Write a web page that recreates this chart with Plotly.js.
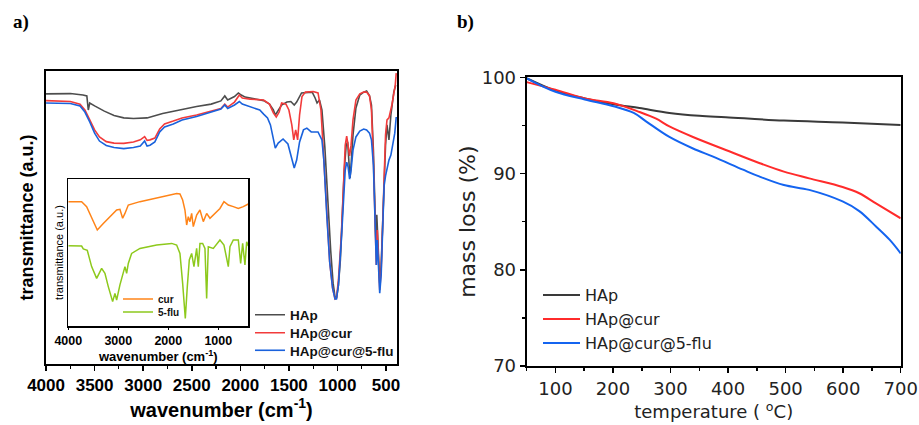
<!DOCTYPE html>
<html>
<head>
<meta charset="utf-8">
<script src="https://cdn.plot.ly/plotly-3.0.1.min.js"></script>
<style>html,body{margin:0;padding:0;background:#fff;}#chart{width:919px;height:425px;}</style>
</head>
<body>
<div id="chart"></div>
<script>
// ---------- Panel a: FTIR (main) ----------
const hapWn = [4000,3750,3620,3580,3565,3550,3500,3400,3300,3200,3100,2960,2800,2600,2450,2300,2200,2160,2130,2060,2020,1990,1950,1870,1760,1700,1660,1640,1610,1575,1520,1480,1445,1420,1370,1300,1260,1230,1210,1185,1160,1130,1100,1070,1045,1025,1010,990,970,950,930,910,895,880,870,860,840,810,770,730,700,670,650,630,615,605,595,580,565,550,535,520,505,490,470,450,420,400];
const hapT  = [92.2,92.3,91.8,91.5,86.7,89.1,88.1,86.3,84.8,84.0,83.8,84.0,85.5,87.0,87.9,88.7,89.8,91.5,90.1,91.3,92.5,91.8,91.1,90.6,89.9,88.7,86.7,85.0,86.7,88.4,89.4,89.6,88.4,89.4,92.5,92.8,92.8,90.8,89.1,90.1,86.7,74.1,56.0,38.9,27.6,22.9,22.5,26.9,35.5,50.9,66.2,74.7,75.8,67.9,63.5,67.9,78.2,87.4,91.8,92.8,93.2,91.5,88.4,73.0,56.0,42.3,50.9,40.6,27.6,33.8,49.1,62.8,74.7,81.6,76.5,85.0,92.8,95.2];

const hapCurWn = [4000,3750,3650,3600,3550,3500,3450,3380,3300,3200,3100,3030,2985,2960,2930,2880,2830,2780,2690,2600,2450,2300,2200,2160,2130,2060,2010,1980,1900,1760,1700,1660,1630,1600,1575,1530,1500,1470,1450,1430,1410,1390,1365,1330,1250,1200,1170,1140,1110,1080,1050,1025,1010,990,960,940,920,905,890,875,860,840,810,770,730,700,670,650,630,610,600,590,575,565,550,535,520,505,490,470,440,420,405,395];
const hapCurT  = [89.9,89.6,88.7,86.7,83.3,79.9,77.5,75.9,75.4,75.3,75.8,76.5,77.6,76.3,76.5,77.1,80.2,81.9,82.9,84.0,85.0,86.3,87.2,88.7,87.7,89.4,91.8,90.8,90.4,90.1,88.7,85.7,84.3,86.0,89.1,88.7,86.7,81.6,76.5,79.9,76.5,85.0,91.3,92.8,93.0,92.5,86.7,69.6,50.9,34.8,25.9,22.2,22.5,28.7,44.0,59.4,74.7,77.8,74.7,71.0,74.7,83.3,90.1,92.2,92.8,92.8,91.5,86.7,69.6,45.7,33.8,45.7,35.5,25.3,32.1,49.1,66.2,78.2,83.3,84.0,88.4,91.8,95.2,99.3];

const hapCurFluWn = [4000,3750,3650,3600,3550,3500,3450,3380,3300,3200,3100,3030,2985,2960,2930,2880,2830,2780,2690,2600,2450,2300,2200,2160,2130,2060,2010,1980,1900,1800,1760,1720,1690,1660,1640,1610,1560,1510,1475,1445,1420,1390,1350,1315,1270,1200,1160,1140,1110,1080,1050,1025,1010,990,960,940,920,905,890,875,860,840,810,770,730,700,670,650,630,610,600,590,575,565,550,535,520,505,490,470,450,430,410,395];
const hapCurFluT  = [89.1,88.9,88.1,86.0,82.6,78.8,76.1,74.6,73.9,73.5,73.9,74.4,76.1,74.4,74.7,75.8,79.2,80.9,81.9,83.3,84.5,86.0,87.0,88.4,87.2,88.4,89.6,88.7,87.9,86.7,85.3,84.0,81.6,77.1,73.7,75.4,76.8,75.1,70.1,66.9,69.6,75.8,79.9,80.5,79.2,79.2,76.5,69.6,50.9,34.8,25.9,22.2,22.2,26.9,42.3,56.0,66.2,68.9,67.2,63.1,66.2,73.0,77.5,79.5,80.2,79.9,78.8,76.5,67.9,45.7,33.8,42.3,32.1,24.2,30.4,49.1,60.8,64.2,66.9,69.6,71.3,74.7,78.8,84.3];

// ---------- Panel a: inset ----------
const curWn = [4000,3733,3633,3533,3420,3300,3167,3033,2967,2913,2867,2800,2567,2233,1833,1767,1713,1667,1633,1600,1567,1533,1500,1433,1367,1300,1233,1167,1067,967,887,800,700,600,500,400];
const curT  = [84.6,84.6,81.2,73.3,65.3,69.8,74.4,78.9,79.4,73.3,76.6,82.3,84.6,87.1,90.2,89.8,85.7,78.9,68.7,74.4,71.0,76.6,67.6,75.5,78.9,71.0,76.6,73.3,76.6,80.0,84.6,82.3,81.2,80.0,81.2,83.0];

const fluWn = [4000,3733,3700,3620,3533,3433,3333,3267,3200,3113,3067,3033,2967,2867,2833,2800,2733,2567,2233,1933,1833,1767,1713,1660,1620,1580,1533,1487,1433,1400,1367,1313,1267,1233,1200,1100,967,887,833,800,767,700,600,553,513,467,433,400];
const fluT  = [54.6,54.4,52.5,51.5,40.4,32.4,39.2,35.8,26.8,16.6,22.2,17.7,28.0,40.4,35.8,42.6,49.4,52.8,55.1,56.2,55.1,49.4,29.0,5.2,26.8,44.9,49.4,40.4,52.8,40.4,56.2,56.2,52.8,18.8,53.9,52.8,58.5,55.1,46.0,40.4,53.9,58.5,58.5,42.6,56.2,41.5,57.3,54.4];

// ---------- Panel b: TGA ----------
const tempHap = [50,100,151,201,246,298,350,396,497,599,700];
const massHap = [99.9,98.6,97.8,97.2,96.8,96.3,96.0,95.85,95.5,95.3,95.05];
const tempHapCur = [50,100,151,201,246,275,298,339,396,454,497,541,599,628,657,700];
const massHapCur = [99.5,98.7,97.8,97.3,96.4,95.7,94.9,93.8,92.45,91.1,90.2,89.5,88.6,87.95,86.9,85.35];
const tempHapCurFlu = [50,100,151,201,236,258,298,339,374,426,454,497,541,599,628,657,681,700];
const massHapCurFlu = [99.9,98.5,97.7,97.0,96.3,95.4,93.8,92.6,91.75,90.4,89.7,88.8,88.3,87.1,86.1,84.5,83.1,81.7];

const ftirNames = ['HAp','HAp@cur','HAp@cur@5-flu'];
const insetNames = ['cur','5-flu'];
const ftirTicks = [4000,3500,3000,2500,2000,1500,1000,500];
const insetTicks = [4000,3000,2000,1000];

const cGray = '#4d4d4d', cRed = '#f23b3b', cBlue = '#1a62dc';
const cOrange = '#ff8418', cGreen = '#8dc91c';
const boldF = 'Liberation Sans, Arial, sans-serif';
const wideF = 'DejaVu Sans, Arial, sans-serif';

const traces = [
  {x: hapWn, y: hapT, name: ftirNames[0], type:'scatter', mode:'lines', line:{color:cGray, width:1.6}, xaxis:'x', yaxis:'y', legend:'legend'},
  {x: hapCurWn, y: hapCurT, name: ftirNames[1], type:'scatter', mode:'lines', line:{color:cRed, width:1.6}, xaxis:'x', yaxis:'y', legend:'legend4'},
  {x: hapCurFluWn, y: hapCurFluT, name: ftirNames[2], type:'scatter', mode:'lines', line:{color:cBlue, width:1.6}, xaxis:'x', yaxis:'y', legend:'legend5'},
  {x: curWn, y: curT, name: insetNames[0], type:'scatter', mode:'lines', line:{color:cOrange, width:1.5}, xaxis:'x2', yaxis:'y2', legend:'legend3'},
  {x: fluWn, y: fluT, name: insetNames[1], type:'scatter', mode:'lines', line:{color:cGreen, width:1.5}, xaxis:'x2', yaxis:'y2', legend:'legend6'},
  {x: tempHap, y: massHap, name: ftirNames[0], type:'scatter', mode:'lines', line:{color:'#3a3a3a', width:2, shape:'spline'}, xaxis:'x3', yaxis:'y3', legend:'legend2'},
  {x: tempHapCur, y: massHapCur, name: ftirNames[1], type:'scatter', mode:'lines', line:{color:'#ff2b2b', width:2, shape:'spline'}, xaxis:'x3', yaxis:'y3', legend:'legend7'},
  {x: tempHapCurFlu, y: massHapCurFlu, name: ftirNames[2], type:'scatter', mode:'lines', line:{color:'#1464f0', width:2, shape:'spline'}, xaxis:'x3', yaxis:'y3', legend:'legend8'}
];

function leg(px, py, font, iw) {
  return {x: px/919, y: 1 - py/425, xanchor: 'left', yanchor: 'middle', bgcolor: 'rgba(0,0,0,0)',
          font: font, itemwidth: iw || 30, borderwidth: 0};
}
const legAFont = {size: 13.5, family: boldF, weight: 'bold', color: '#111'};
const legBFont = {size: 16, family: wideF, color: '#222'};
const legIFont = {size: 10, family: boldF, weight: 'bold', color: '#111'};

const layout = {
  width: 919, height: 425,
  margin: {l:0, r:0, t:0, b:0},
  paper_bgcolor: '#fff', plot_bgcolor: 'rgba(0,0,0,0)',
  font: {family: boldF, color: '#000'},
  xaxis: {
    domain: [0.0501, 0.432], range: [4000, 387], tickvals: ftirTicks,
    showline: true, mirror: true, linecolor: '#000', linewidth: 2,
    ticks: 'outside', ticklen: 5, tickwidth: 1.5, tickcolor: '#000',
    minor: {dtick: 250, tick0: 0, ticks: 'outside', ticklen: 3, tickcolor: '#000', tickwidth: 1.2},
    tickfont: {size: 17, family: boldF, weight: 'bold'},
    showgrid: false, zeroline: false, anchor: 'y',
    title: {text: '<b>wavenumber (cm<sup>-1</sup>)</b>', font: {size: 20, family: boldF}, standoff: 6}
  },
  yaxis: {
    domain: [0.1435, 0.8329], range: [0, 100],
    showline: true, mirror: true, linecolor: '#000', linewidth: 2,
    ticks: '', showticklabels: false, showgrid: false, zeroline: false, anchor: 'x',
    title: {text: '<b>transmittance (a.u.)</b>', font: {size: 18, family: boldF}, standoff: 6}
  },
  xaxis2: {
    domain: [0.0743, 0.2702], range: [4000, 400], tickvals: insetTicks,
    showline: true, mirror: true, linecolor: '#000', linewidth: 1.5,
    ticks: 'outside', ticklen: 2, tickcolor: '#000',
    tickfont: {size: 12.5, family: boldF, weight: 'bold'},
    showgrid: false, zeroline: false, anchor: 'y2',
    title: {text: '<b>wavenumber (cm<sup>-1</sup>)</b>', font: {size: 13, family: boldF}, standoff: 0}
  },
  yaxis2: {
    domain: [0.2329, 0.5788], range: [0, 100],
    showline: true, mirror: true, linecolor: '#000', linewidth: 1.5,
    ticks: '', showticklabels: false, showgrid: false, zeroline: false, anchor: 'x2',
    title: {text: 'transmittance (a.u.)', font: {size: 11, family: boldF}, standoff: 1}
  },
  xaxis3: {
    domain: [0.5731, 0.9801], range: [50, 700], tick0: 0, dtick: 100,
    showline: true, mirror: true, linecolor: '#000', linewidth: 2,
    ticks: 'outside', ticklen: 5, tickwidth: 1.5, tickcolor: '#000',
    minor: {dtick: 50, ticks: 'outside', ticklen: 3, tickcolor: '#000'},
    tickfont: {size: 18, family: wideF, color: '#222'},
    showgrid: false, zeroline: false, anchor: 'y3',
    title: {text: 'temperature ( <sup>o</sup>C)', font: {size: 18, family: wideF, color: '#222'}, standoff: 5}
  },
  yaxis3: {
    domain: [0.1388, 0.8181], range: [70, 100], tick0: 70, dtick: 10,
    showline: true, mirror: true, linecolor: '#000', linewidth: 2,
    ticks: 'outside', ticklen: 5, tickwidth: 1.5, tickcolor: '#000',
    minor: {dtick: 5, ticks: 'outside', ticklen: 3, tickcolor: '#000'},
    tickfont: {size: 18, family: wideF, color: '#222'},
    showgrid: false, zeroline: false, anchor: 'x3',
    title: {text: 'mass loss (%)', font: {size: 22, family: wideF, color: '#222'}, standoff: 0}
  },
  legend:  leg(250, 315, legAFont),
  legend4: leg(250, 333, legAFont),
  legend5: leg(250, 350.5, legAFont),
  legend3: leg(118, 299, legIFont),
  legend6: leg(118, 312, legIFont),
  legend2: leg(538, 295, legBFont, 37),
  legend7: leg(538, 319, legBFont, 37),
  legend8: leg(538, 343, legBFont, 37),
  annotations: [
    {text: '<b>a)</b>', x: 21/919, y: 1 - 22/425, xref: 'paper', yref: 'paper', xanchor: 'center', yanchor: 'middle', showarrow: false, font: {size: 19, family: 'Liberation Serif, Times New Roman, serif'}},
    {text: '<b>b)</b>', x: 466/919, y: 1 - 22/425, xref: 'paper', yref: 'paper', xanchor: 'center', yanchor: 'middle', showarrow: false, font: {size: 19, family: 'Liberation Serif, Times New Roman, serif'}}
  ],
  showlegend: true
};

Plotly.newPlot('chart', traces, layout, {displayModeBar: false, staticPlot: true});
</script>
</body>
</html>
